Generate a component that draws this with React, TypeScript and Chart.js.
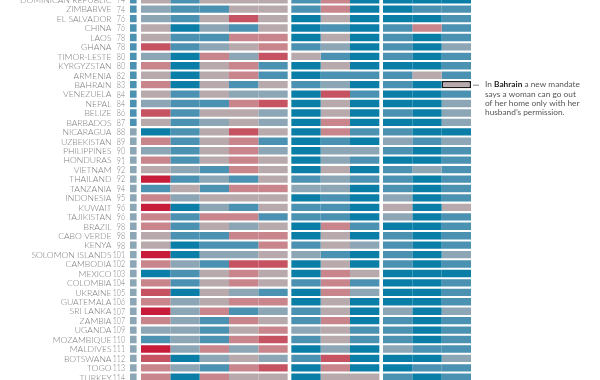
import React, { useEffect, useRef } from "react";
import { Chart, registerables } from "chart.js";

Chart.register(...registerables);

// Countries and their scores (rank value shown next to the name)
const countries = [
  "DOMINICAN REPUBLIC", "ZIMBABWE", "EL SALVADOR", "CHINA", "LAOS", "GHANA", "TIMOR-LESTE",
  "KYRGYZSTAN", "ARMENIA", "BAHRAIN", "VENEZUELA", "NEPAL", "BELIZE", "BARBADOS",
  "NICARAGUA", "UZBEKISTAN", "PHILIPPINES", "HONDURAS", "VIETNAM", "THAILAND", "TANZANIA",
  "INDONESIA", "KUWAIT", "TAJIKISTAN", "BRAZIL", "CABO VERDE", "KENYA", "SOLOMON ISLANDS",
  "CAMBODIA", "MEXICO", "COLOMBIA", "UKRAINE", "GUATEMALA", "SRI LANKA", "ZAMBIA",
  "UGANDA", "MOZAMBIQUE", "MALDIVES", "BOTSWANA", "TOGO", "TURKEY",
];
const scores = [
  74, 74, 76, 76, 78, 78, 80, 80, 82, 83, 84, 84, 86, 87, 88, 89, 90, 91, 92, 92, 94,
  95, 96, 96, 98, 98, 98, 101, 102, 103, 104, 105, 106, 107, 107, 109, 110, 111, 112, 113, 114,
];

// Cell levels: B = strongest blue ... N = neutral ... D = deepest red
const overall = [
  "M", "M", "M", "M", "M", "M", "M", "M", "M", "M", "M", "M", "M", "M",
  "G", "G", "G", "G", "G", "G", "G", "G", "G", "G", "G", "G", "G", "G",
  "G", "G", "G", "G", "G", "G", "G", "G", "G", "G", "G", "G", "G",
];
const groupA = [
  "NMNNN", "GMMNN", "GMNRN", "NBGMN", "NMMLL", "RMGNL", "GBLGR", "LBNLM", "NBNLM", "LBNMN",
  "NMNGG", "GMMLR", "RMNNG", "NMGNG", "BMNRN", "LMNLM", "GMNLG", "LMNLN", "NGMLN", "DMGMN",
  "MNMLL", "LGNNN", "DBGMN", "LMLLM", "LMNGN", "NMMLL", "NBMML", "DBGGN", "LGMRR", "BMNLN",
  "LMNLN", "RBNGM", "LGNLL", "DGLMG", "LGMLN", "GGMNL", "MGMLR", "DGLGL", "RBGNG", "LGMLR",
  "LBLNN",
];
const groupB = [
  "MLB", "MLB", "BNB", "BMB", "BNB", "MGB", "NMB", "BNB", "BMM", "MGB",
  "BRM", "BNB", "BNB", "BLB", "BLM", "BMB", "BGG", "BGM", "BNB", "MGM",
  "GGB", "BMB", "MMB", "MMB", "BLM", "BNB", "MNG", "GMB", "BNB", "BLN",
  "MLM", "BLG", "BNB", "MNB", "MLB", "GNM", "MNM", "BGB", "MRB", "BLB",
  "BNN",
];
const groupC = [
  "BBB", "BMM", "BBM", "MLM", "MBM", "MBG", "MBM", "BBM", "MNM", "MBN",
  "BBM", "BBG", "MBG", "BBG", "MBB", "GMG", "MBM", "BBM", "MGM", "MBM",
  "MBM", "GBM", "NBN", "GBM", "BBM", "MBM", "MBM", "MBG", "MBM", "BBB",
  "BBM", "BBM", "BBM", "GBG", "MBM", "MBM", "MBM", "GMM", "BBG", "BMM",
  "MBM",
];

const highlightCountry = "BAHRAIN";
const noteLines = [
  ["In ", "Bahrain", " a new mandate"],
  ["says a woman can go out"],
  ["of her home only with her"],
  ["husband\u2019s permission."],
];

const palette: Record<string, string> = {
  B: "#0b7ea7",
  M: "#4b91b1",
  G: "#8ca6b6",
  N: "#b8aaac",
  L: "#c9858c",
  R: "#c65361",
  D: "#c81c3b",
};

// layout in column units
const GAP = 0.125;
const SQ = [-0.375, -0.15];

export default function App() {
  const ref = useRef<HTMLCanvasElement | null>(null);

  useEffect(() => {
    const canvas = ref.current;
    if (!canvas) return;
    const hiIdx = countries.indexOf(highlightCountry);

    const datasets: any[] = [];
    datasets.push({
      label: "overall",
      data: countries.map(() => [SQ[0], SQ[1]]),
      backgroundColor: overall.map((c) => palette[c]),
      grouped: false,
      borderWidth: 0,
    });
    const groups = [
      { rows: groupA, start: 0 },
      { rows: groupB, start: 5 + GAP },
      { rows: groupC, start: 8 + 2 * GAP },
    ];
    groups.forEach((g, gi) => {
      const n = g.rows[0].length;
      for (let c = 0; c < n; c++) {
        const isLast = gi === 2 && c === n - 1;
        datasets.push({
          label: `g${gi}c${c}`,
          data: countries.map(() => [g.start + c, g.start + c + 1]),
          backgroundColor: g.rows.map((r) => palette[r[c]]),
          borderColor: "#1a1a1a",
          borderWidth: countries.map((_, i) => (isLast && i === hiIdx ? 1.5 : 0)),
          borderSkipped: false,
          grouped: false,
        });
      }
    });
    const noteDs = datasets.length - 1;

    const labelPlugin = {
      id: "labels",
      afterDatasetsDraw(chart: any) {
        const ctx = chart.ctx;
        const x = chart.scales.x;
        const y = chart.scales.y;
        const scoreRight = x.getPixelForValue(SQ[0]) - 5;
        ctx.save();
        ctx.fillStyle = "#7c7c7c";
        ctx.textBaseline = "middle";
        countries.forEach((name, i) => {
          const py = y.getPixelForValue(i) + 0.5;
          ctx.textAlign = "right";
          ctx.font = "300 8.6px Lato";
          ctx.fillText(name, scoreRight - 13.5, py);
          // narrow digits
          ctx.save();
          ctx.translate(scoreRight, py);
          ctx.scale(0.78, 1);
          ctx.font = "300 9px Lato";
          ctx.fillText(String(scores[i]), 0, 0);
          ctx.restore();
        });
        // annotation
        const el = chart.getDatasetMeta(noteDs).data[hiIdx];
        const ex = el.x;
        const ey = el.y;
        ctx.strokeStyle = "#888";
        ctx.lineWidth = 1;
        ctx.beginPath();
        ctx.moveTo(ex + 2, ey + 0.5);
        ctx.lineTo(ex + 8, ey + 0.5);
        ctx.stroke();
        ctx.textAlign = "left";
        noteLines.forEach((parts, li) => {
          let tx = ex + 14;
          const ty = ey + li * 9.2;
          parts.forEach((p, pi) => {
            const bold = noteLines[li].length > 1 && pi === 1;
            ctx.font = bold ? "700 8.3px Lato" : "400 8.3px Lato";
            ctx.fillStyle = bold ? "#222" : "#555";
            ctx.fillText(p, tx, ty);
            tx += ctx.measureText(p).width;
          });
        });
        ctx.restore();
      },
    };

    const chart = new Chart(canvas, {
      type: "bar",
      data: { labels: countries, datasets },
      options: {
        indexAxis: "y",
        animation: false,
        responsive: false,
        events: [],
        layout: { padding: { left: 126.33, right: 4.33, top: 0, bottom: 0 } },
        datasets: { bar: { categoryPercentage: 1, barPercentage: 0.78 } },
        scales: {
          x: { type: "linear", min: -0.5, max: 15.5, display: false },
          y: { type: "category", display: false, offset: true },
        },
        plugins: { legend: { display: false }, tooltip: { enabled: false } },
      } as any,
      plugins: [labelPlugin],
    });
    return () => chart.destroy();
  }, []);

  return (
    <div style={{ position: "fixed", left: 0, top: -5, width: 600, height: 387, background: "#fff" }}>
      <canvas ref={ref} width={600} height={387} style={{ display: "block" }} />
    </div>
  );
}
